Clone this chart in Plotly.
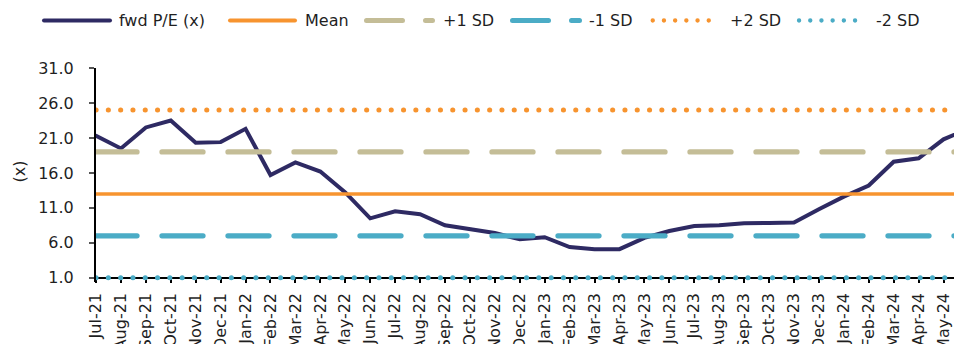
import plotly.graph_objects as go

# Monthly forward P/E with mean and standard-deviation bands
months = [
    "Jul-21", "Aug-21", "Sep-21", "Oct-21", "Nov-21", "Dec-21",
    "Jan-22", "Feb-22", "Mar-22", "Apr-22", "May-22", "Jun-22",
    "Jul-22", "Aug-22", "Sep-22", "Oct-22", "Nov-22", "Dec-22",
    "Jan-23", "Feb-23", "Mar-23", "Apr-23", "May-23", "Jun-23",
    "Jul-23", "Aug-23", "Sep-23", "Oct-23", "Nov-23", "Dec-23",
    "Jan-24", "Feb-24", "Mar-24", "Apr-24", "May-24", "Jun-24",
]
fwd_pe = [
    21.3, 19.5, 22.5, 23.5, 20.3, 20.4,
    22.3, 15.7, 17.5, 16.2, 13.2, 9.5,
    10.5, 10.1, 8.5, 8.0, 7.4, 6.5,
    6.8, 5.4, 5.1, 5.1, 6.7, 7.7,
    8.4, 8.5, 8.8, 8.85, 8.9, 10.8,
    12.6, 14.2, 17.6, 18.1, 20.8, 22.3,
]
mean_level = 13.0
plus1_level = 19.0
minus1_level = 7.0
plus2_level = 25.0
minus2_level = 1.0

y_ticks_start, y_ticks_step, y_top = 1.0, 5.0, 31.0

# colours
NAVY = "#2E2A63"
ORANGE = "#F7942F"
KHAKI = "#C4BD97"
TEAL = "#4BACC6"
TEXT = "#1f1f1f"
FONT = "DejaVu Sans, Verdana, sans-serif"

# page geometry (px)
W, H = 954, 344
ML, MR, MT, MB = 96, 0, 68, 62
PLOT_W = W - ML - MR
PLOT_H = H - MT - MB
Y_BOTTOM = 0.4  # a little room below 1.0 so the bottom dotted band is not clipped
X_END = 34.42   # the chart runs off the right edge of the page


def px_x(px):
    return (px - ML) / PLOT_W


def px_y(py):
    return (H - MB - py) / PLOT_H


n = len(months)
fig = go.Figure()

fig.add_trace(go.Scatter(x=months, y=fwd_pe, mode="lines",
                         line=dict(color=NAVY, width=4), name="fwd P/E (x)"))
fig.add_trace(go.Scatter(x=months, y=[mean_level] * n, mode="lines",
                         line=dict(color=ORANGE, width=3.5), name="Mean"))
fig.add_trace(go.Scatter(x=months, y=[plus1_level] * n, mode="lines",
                         line=dict(color=KHAKI, width=5.3, dash="41px,25px"), name="+1 SD"))
fig.add_trace(go.Scatter(x=months, y=[minus1_level] * n, mode="lines",
                         line=dict(color=TEAL, width=5.3, dash="41px,25px"), name="-1 SD"))
fig.add_trace(go.Scatter(x=months, y=[plus2_level] * n, mode="lines",
                         line=dict(color=ORANGE, width=5, dash="0.1px,12.2px"), name="+2 SD"))
fig.add_trace(go.Scatter(x=months, y=[minus2_level] * n, mode="lines",
                         line=dict(color=TEAL, width=5, dash="0.1px,12.2px"), name="-2 SD"))

# hand-built legend row along the top
LEG_Y = 20.5
legend_items = [
    # (sample start px, sample end px, colour, width, dash, text x px, label)
    (44, 110, NAVY, 4, "solid", 117, "fwd P/E (x)"),
    (230, 295, ORANGE, 4, "solid", 303, "Mean"),
    (366.5, 432.5, KHAKI, 5, "36px,23px", 440.5, "+1 SD"),
    (512.5, 579.5, TEAL, 5, "36px,23px", 587, "-1 SD"),
    (652.7, 719.5, ORANGE, 4.3, "0.1px,11.1px", 728, "+2 SD"),
    (799, 866, TEAL, 4.3, "0.1px,11.1px", 874, "-2 SD"),
]
shapes = []
annotations = []
for x0, x1, col, w, dash, tx, label in legend_items:
    shapes.append(dict(type="line", xref="paper", yref="paper",
                       x0=px_x(x0), x1=px_x(x1), y0=px_y(LEG_Y), y1=px_y(LEG_Y),
                       line=dict(color=col, width=w, dash=dash)))
    annotations.append(dict(xref="paper", yref="paper", x=px_x(tx), y=px_y(LEG_Y),
                            xanchor="left", yanchor="middle", showarrow=False,
                            text=label, font=dict(family=FONT, size=16, color=TEXT)))

# y-axis title
annotations.append(dict(xref="paper", yref="paper", x=px_x(18.5), y=px_y(172),
                        xanchor="center", yanchor="middle", showarrow=False,
                        text="(x)", textangle=-90,
                        font=dict(family=FONT, size=16, color=TEXT)))

fig.update_layout(
    width=W, height=H,
    margin=dict(l=ML, r=MR, t=MT, b=MB, pad=0, autoexpand=False),
    paper_bgcolor="white", plot_bgcolor="white",
    showlegend=False,
    font=dict(family=FONT, size=16, color=TEXT),
    shapes=shapes,
    annotations=annotations,
    xaxis=dict(
        type="category", range=[0, X_END],
        tickmode="linear", tick0=0, dtick=1,
        showline=True, linecolor="black", linewidth=1.5,
        ticks="outside", ticklen=4, tickwidth=1.5, tickcolor="black",
        ticklabelstandoff=4,
        tickangle=-90, tickfont=dict(family=FONT, size=16, color=TEXT),
        showgrid=False, zeroline=False, automargin=False,
        layer="below traces",
        anchor="free",
        position=(minus2_level - Y_BOTTOM) / (y_top - Y_BOTTOM),
    ),
    yaxis=dict(
        range=[Y_BOTTOM, y_top],
        tickmode="linear", tick0=y_ticks_start, dtick=y_ticks_step,
        tickformat=".1f",
        showline=True, linecolor="black", linewidth=2,
        ticks="outside", ticklen=5, tickwidth=1.5, tickcolor="#555555",
        ticklabelstandoff=12,
        tickfont=dict(family=FONT, size=16, color=TEXT),
        showgrid=False, zeroline=False, automargin=False,
        layer="below traces",
    ),
)

# rounded line caps so dashes end softly and dotted bands draw as round dots
post = """
var gd = document.getElementById('{plot_id}');
function roundCaps(){
  gd.querySelectorAll('.scatterlayer .js-line, .shapelayer path').forEach(function(p){
    p.style.strokeLinecap = 'round';
  });
}
roundCaps();
gd.on('plotly_afterplot', roundCaps);
"""

fig.write_html("out.html", post_script=post)
